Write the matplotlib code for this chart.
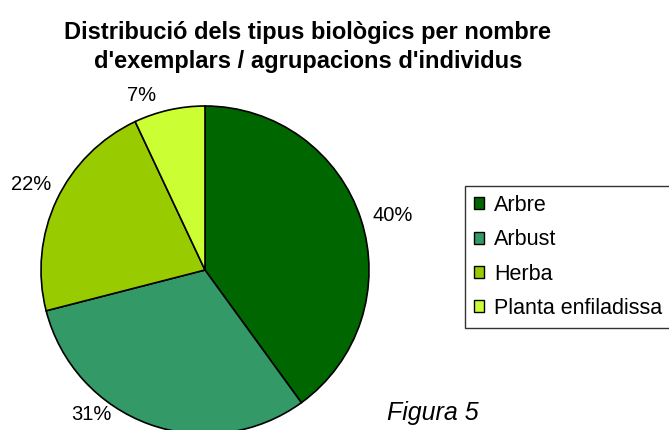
import matplotlib
matplotlib.use("Agg")
import matplotlib.pyplot as plt
from matplotlib.patches import Patch

plt.rcParams['font.family'] = ['Liberation Sans', 'DejaVu Sans']

# data
categories = ['Arbre', 'Arbust', 'Herba', 'Planta enfiladissa']
shares = [40, 31, 22, 7]
colors = ['#006600', '#339966', '#99CC00', '#CCFF33']

# where Excel put the percentage labels (pie radius = 1)
label_xy = [(1.146, 0.335), (-0.695, -0.884), (-1.061, 0.524), (-0.384, 1.067)]

W, H = 669, 430
fig = plt.figure(figsize=(W / 100, H / 100), dpi=100)
fig.patch.set_facecolor('white')

# pie: centre at (205, 270) px from top-left, radius 164 px
cx, cy, r = 205, 270, 164
ax = fig.add_axes([(cx - r) / W, (H - cy - r) / H, 2 * r / W, 2 * r / H])
wedges, texts = ax.pie(shares, colors=colors, startangle=90, counterclock=False,
                       labels=[f'{v}%' for v in shares], labeldistance=1.15,
                       wedgeprops=dict(edgecolor='black', linewidth=1.2),
                       textprops=dict(fontsize=14.5, color='black'))
for t, (x, y) in zip(texts, label_xy):
    t.set_position((x, y))
    t.set_ha('center')
    t.set_va('center')
ax.set_xlim(-1, 1)
ax.set_ylim(-1, 1)
ax.set_aspect('auto')
ax.axis('off')

fig.text(308 / W, 1 - 47 / H,
         "Distribució dels tipus biològics per nombre\nd'exemplars / agrupacions d'individus",
         ha='center', va='center', fontsize=17, fontweight='bold', linespacing=1.3)

handles = [Patch(facecolor=c, edgecolor='black', linewidth=1) for c in colors]
leg = fig.legend(handles, categories, loc='upper left',
                 bbox_to_anchor=(465 / W, 1 - 186 / H), fontsize=15.5,
                 frameon=True, fancybox=False, edgecolor='black',
                 borderaxespad=0, handlelength=0.48, handleheight=0.48,
                 handletextpad=0.45, borderpad=0.42, labelspacing=0.62)
leg.get_frame().set_linewidth(1)

fig.text(433 / W, 1 - 413 / H, 'Figura 5', ha='center', va='center',
         fontsize=18, style='italic')

fig.savefig('out.png', dpi=100, facecolor='white')
